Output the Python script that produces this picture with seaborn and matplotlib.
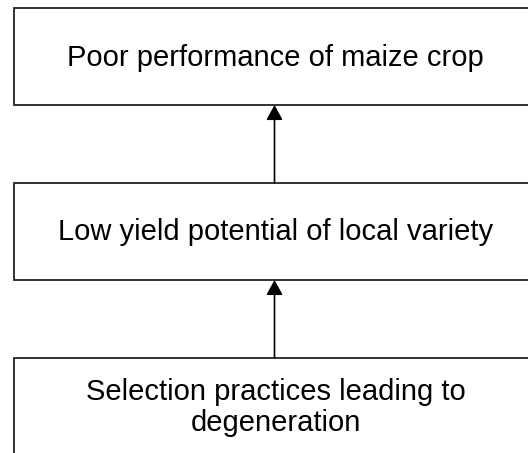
"""
Problem tree: causes leading to poor maize performance
"""
import matplotlib

matplotlib.use("Agg")
import matplotlib.pyplot as plt
from matplotlib.patches import Rectangle
import seaborn as sns

sns.set_theme(style="white")
plt.rcParams["font.family"] = ["Liberation Sans", "DejaVu Sans"]

# Diagram content (top to bottom)
BOX_LABELS = [
    "Poor performance of maize crop",
    "Low yield potential of local variety",
    "Selection practices leading to\ndegeneration",
]
# Arrows go from box index (source) up to box index (target)
ARROWS = [(1, 0), (2, 1)]

# Layout (pixels, y grows downward)
W, H = 528, 453
BOX_LEFT, BOX_RIGHT = 14, 537
BOX_TOPS = [8, 183, 358]
BOX_HEIGHT = 97
LINE_COLOR = "#222222"


def main():
    fig = plt.figure(figsize=(W / 100, H / 100), dpi=100)
    ax = fig.add_axes([0, 0, 1, 1])
    ax.set_xlim(0, W)
    ax.set_ylim(H, 0)
    ax.axis("off")

    cx = (BOX_LEFT + BOX_RIGHT) / 2
    for label, top in zip(BOX_LABELS, BOX_TOPS):
        ax.add_patch(
            Rectangle(
                (BOX_LEFT, top),
                BOX_RIGHT - BOX_LEFT,
                BOX_HEIGHT,
                facecolor="white",
                edgecolor=LINE_COLOR,
                linewidth=1.3,
            )
        )
        ax.text(
            cx,
            top + BOX_HEIGHT / 2 + 1,
            label,
            ha="center",
            va="center",
            fontsize=21,
            color="black",
            linespacing=1.15,
        )

    for src, dst in ARROWS:
        ax.annotate(
            "",
            xy=(cx - 1, BOX_TOPS[dst] + BOX_HEIGHT),
            xytext=(cx - 1, BOX_TOPS[src]),
            arrowprops=dict(
                arrowstyle="-|>,head_length=0.6,head_width=0.33",
                mutation_scale=15,
                color="black",
                lw=1.2,
                shrinkA=0,
                shrinkB=0,
            ),
        )

    fig.savefig("out.png", dpi=100, facecolor="white")
    plt.close(fig)


if __name__ == "__main__":
    main()
